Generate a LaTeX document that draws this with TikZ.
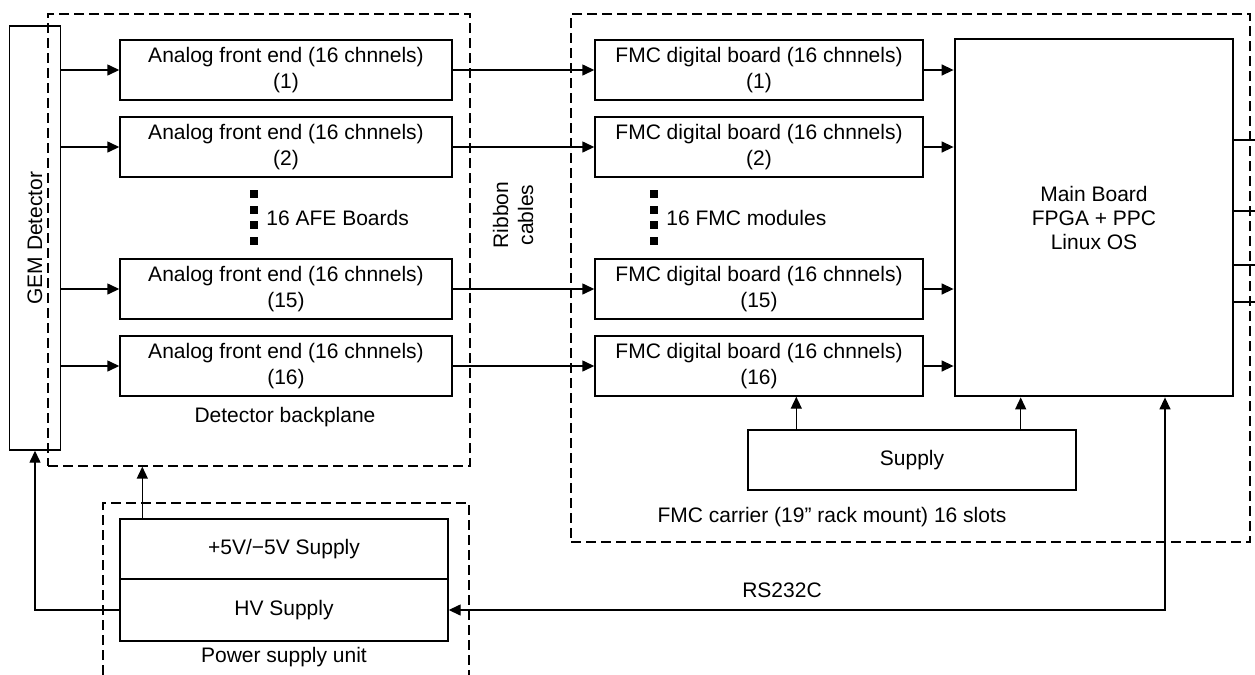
\documentclass[tikz,border=0pt]{standalone}
\usepackage{fontspec}
\setmainfont{Liberation Sans}
\usetikzlibrary{arrows.meta}
\tikzset{
  box/.style={draw, line width=0.7pt, inner sep=0pt, align=center, minimum width=164pt, minimum height=30pt},
  grp/.style={draw, line width=0.65pt, dash pattern=on 5pt off 2.5pt, inner sep=0pt},
  arr/.style={line width=0.7pt, -{Triangle[length=6pt,width=5.5pt]}},
  dot/.style={fill, inner sep=0pt, minimum size=4.2pt},
}
\begin{document}
\begin{tikzpicture}[x=0.5pt, y=-0.5pt, font=\fontsize{10.5}{13}\selectfont]
\useasboundingbox (0,0) rectangle (1255,675);
% groups
\node[grp, minimum width=211pt, minimum height=226pt] (backplane) at (259,240){};
\node[grp, minimum width=339.5pt, minimum height=264pt] (carrier) at (910.5,278){};
\draw[grp] (103,675) -- (103,503) -- (469,503) -- (469,675);
\node (backplanelbl) at (285,417){Detector backplane};
\node (carrierlbl) at (832,517){FMC carrier (19” rack mount) 16 slots};
\node (psulbl) at (284,657){Power supply unit};
% detector and front ends
\node[box, minimum width=212pt, minimum height=25.5pt, rotate=90] (gem) at (35,238){GEM Detector};
\node[box, minimum width=166pt] (afe1) at (286,70){Analog front end (16 chnnels)\\(1)};
\node[box, minimum width=166pt] (afe2) at (286,147){Analog front end (16 chnnels)\\(2)};
\node[box, minimum width=166pt] (afe15) at (286,289){Analog front end (16 chnnels)\\(15)};
\node[box, minimum width=166pt] (afe16) at (286,366){Analog front end (16 chnnels)\\(16)};
\node[dot] (afedot1) at (254,194){};
\node[dot] (afedot2) at (254,210){};
\node[dot] (afedot3) at (254,225){};
\node[dot] (afedot4) at (254,241){};
\node[anchor=west, inner sep=0pt] (afecount) at (266,218){16 AFE Boards};
\node[rotate=90, align=center, font=\fontsize{10.5}{12.5}\selectfont] (ribbon) at (513,215){Ribbon\\cables};
\draw[arr] (gem.south |- afe1.west) -- (afe1.west);
\draw[arr] (gem.south |- afe2.west) -- (afe2.west);
\draw[arr] (gem.south |- afe15.west) -- (afe15.west);
\draw[arr] (gem.south |- afe16.west) -- (afe16.west);
% digital boards
\node[box] (fmc1) at (759,70){FMC digital board (16 chnnels)\\(1)};
\node[box] (fmc2) at (759,147){FMC digital board (16 chnnels)\\(2)};
\node[box] (fmc15) at (759,289){FMC digital board (16 chnnels)\\(15)};
\node[box] (fmc16) at (759,366){FMC digital board (16 chnnels)\\(16)};
\node[dot] (fmcdot1) at (654,194){};
\node[dot] (fmcdot2) at (654,210){};
\node[dot] (fmcdot3) at (654,225){};
\node[dot] (fmcdot4) at (654,241){};
\node[anchor=west, inner sep=0pt] (fmccount) at (666,218){16 FMC modules};
\draw[arr] (afe1) -- (fmc1);
\draw[arr] (afe2) -- (fmc2);
\draw[arr] (afe15) -- (fmc15);
\draw[arr] (afe16) -- (fmc16);
\node[box, line width=1.4pt, minimum width=139pt, minimum height=178.5pt, font=\fontsize{10.5}{12}\selectfont] (main) at (1094,217.5){Main Board\\FPGA + PPC\\Linux OS};
\draw[arr] (fmc1) -- (fmc1 -| main.west);
\draw[arr] (fmc2) -- (fmc2 -| main.west);
\draw[arr] (fmc15) -- (fmc15 -| main.west);
\draw[arr] (fmc16) -- (fmc16 -| main.west);
\coordinate (out1) at (1255,140);
\coordinate (out2) at (1255,211);
\coordinate (out3) at (1255,265);
\coordinate (out4) at (1255,302);
\draw[line width=0.7pt] (main.east |- out1) -- (out1);
\draw[line width=0.7pt] (main.east |- out2) -- (out2);
\draw[line width=0.7pt] (main.east |- out3) -- (out3);
\draw[line width=0.7pt] (main.east |- out4) -- (out4);
\node[box] (supply) at (912,460){Supply};
\draw[arr] ([xshift=24.5pt]supply.north west) -- ([xshift=24.5pt]supply.north west |- fmc16.south);
\draw[arr] ([xshift=-28pt]supply.north east) -- ([xshift=-28pt]supply.north east |- main.south);
% power supply unit
\node[box] (psu5v) at (284,549){+5V/−5V Supply};
\node[box, minimum height=31pt] (hv) at (284,610){HV Supply};
\draw[arr] ([xshift=11.5pt]psu5v.north west) -- ([xshift=11.5pt]psu5v.north west |- backplane.south);
\draw[arr] (hv.west) -| (gem.west);
\coordinate (rsbend) at (1165,610);
\draw[arr, {Triangle[length=6pt,width=5.5pt]}-{Triangle[length=6pt,width=5.5pt]}] (hv.east) -- (rsbend) -- (rsbend |- main.south);
\node (rslbl) at (782,590){RS232C};
\end{tikzpicture}
\end{document}
